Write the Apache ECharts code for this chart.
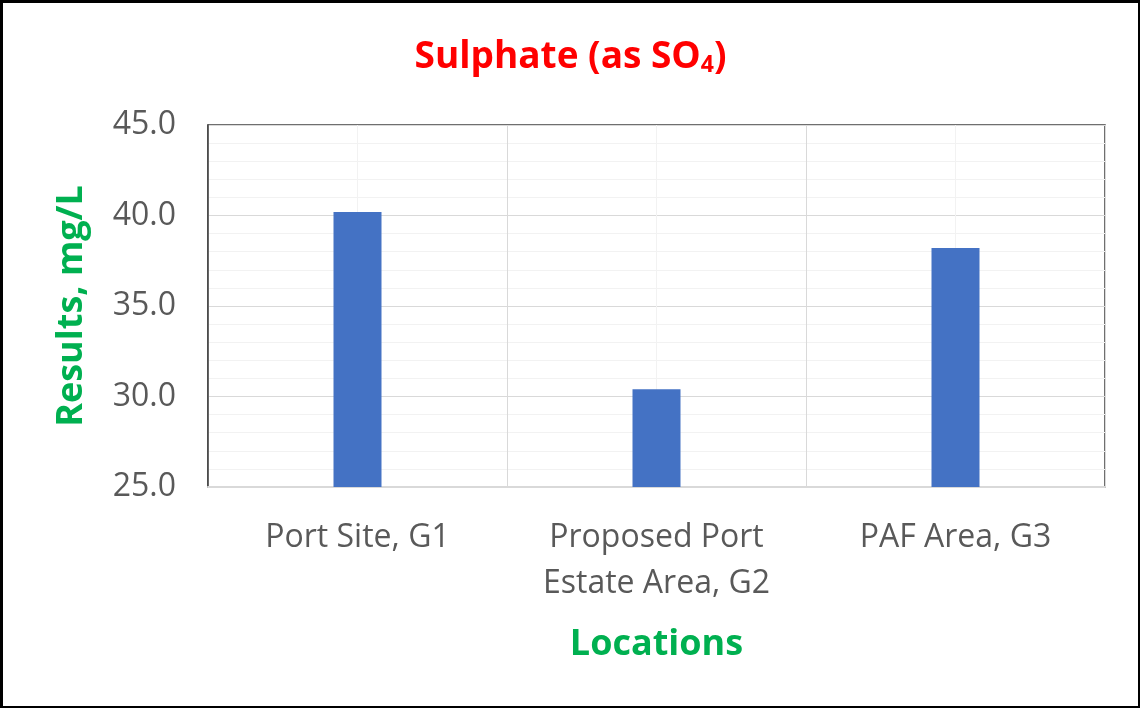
<!DOCTYPE html>
<html>
<head>
<meta charset="utf-8">
<script src="https://cdn.jsdelivr.net/npm/echarts@6/dist/echarts.min.js"></script>
<style>
  html, body { margin: 0; padding: 0; background: #fff; }
  .frame {
    width: 1140px;
    height: 708px;
    box-sizing: border-box;
    border-style: solid;
    border-color: #000;
    border-width: 3px 2px 2px 3px;
  }
  #chart { width: 100%; height: 100%; }
</style>
</head>
<body>
<div class="frame"><div id="chart"></div></div>
<script>
// 数据
const locations = ['Port Site, G1', 'Proposed Port\nEstate Area, G2', 'PAF Area, G3']
const sulphate = [40.2, 30.4, 38.2]

const fontFamily = '"Open Sans", Lato, sans-serif'
const chart = echarts.init(document.getElementById('chart'))

const option = {
  animation: false,
  title: {
    text: '{t|Sulphate (as SO}{s|4}{t|)}',
    left: 'center',
    top: 29,
    textStyle: {
      rich: {
        t: { color: '#ff0000', fontSize: 37, fontWeight: 'bold', fontFamily },
        s: { color: '#ff0000', fontSize: 23, fontWeight: 'bold', fontFamily, verticalAlign: 'bottom', padding: [17, 0, 0, 0] }
      }
    }
  },
  grid: {
    left: 205,
    right: 33,
    top: 122,
    bottom: 219,
    show: true,
    borderColor: '#404040',
    borderWidth: 1.5
  },
  xAxis: [
    {
      type: 'category',
      data: locations,
      name: 'Locations',
      nameLocation: 'middle',
      nameGap: 140,
      nameTextStyle: { color: '#00b050', fontSize: 36, fontWeight: 'bold', fontFamily },
      axisLine: { lineStyle: { color: '#d9d9d9', width: 2 } },
      axisTick: { show: false },
      axisLabel: {
        color: '#595959',
        fontSize: 32,
        fontFamily,
        lineHeight: 46,
        margin: 28,
        verticalAlign: 'top',
        interval: 0
      },
      splitLine: { show: false }
    },
    {
      // 竖向网格线（类别边界与中心）
      type: 'value',
      min: 0,
      max: 3,
      interval: 1,
      show: true,
      axisLine: { show: false },
      axisTick: { show: false },
      axisLabel: { show: false },
      splitLine: { show: true, lineStyle: { color: '#d9d9d9', width: 1 } },
      minorTick: { show: false, splitNumber: 2 },
      minorSplitLine: { show: true, lineStyle: { color: '#f2f2f2', width: 1 } }
    }
  ],
  yAxis: {
    type: 'value',
    min: 25,
    max: 45,
    interval: 5,
    name: 'Results, mg/L',
    nameLocation: 'middle',
    nameGap: 118,
    nameTextStyle: { color: '#00b050', fontSize: 36, fontWeight: 'bold', fontFamily },
    axisLine: { show: true, lineStyle: { color: '#404040', width: 1.5 } },
    axisTick: { show: false },
    axisLabel: {
      color: '#595959',
      fontSize: 32,
      fontFamily,
      margin: 32,
      formatter: v => v.toFixed(1)
    },
    splitLine: { lineStyle: { color: '#d9d9d9', width: 1 } },
    minorTick: { show: false, splitNumber: 5 },
    minorSplitLine: { show: true, lineStyle: { color: '#f2f2f2', width: 1 } }
  },
  series: [
    {
      name: 'Sulphate',
      type: 'bar',
      xAxisIndex: 0,
      data: sulphate,
      barWidth: 48,
      itemStyle: { color: '#4472c4' }
    }
  ]
}

chart.setOption(option)
</script>
</body>
</html>
